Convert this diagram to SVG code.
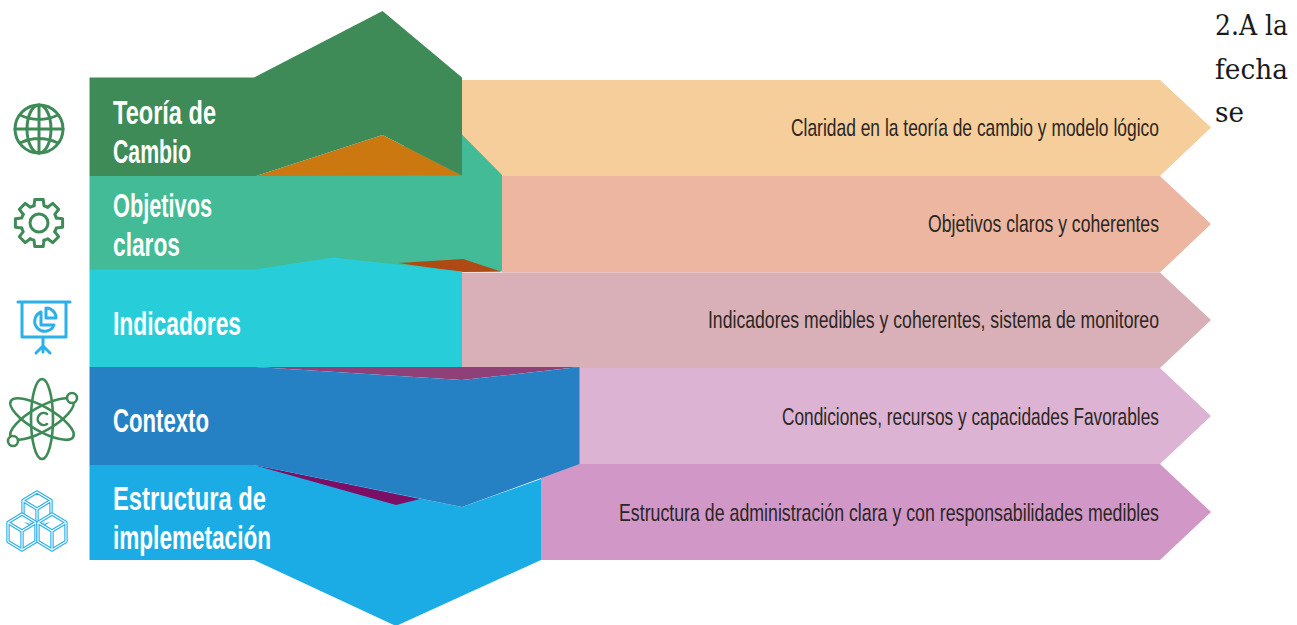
<svg xmlns="http://www.w3.org/2000/svg" width="1297" height="625" viewBox="0 0 1297 625">
<style>
.lab{font-family:"Liberation Sans Narrow","Liberation Sans",sans-serif;font-size:33px;font-weight:700;fill:#fff}
.desc{font-family:"Liberation Sans Narrow","Liberation Sans",sans-serif;font-size:24px;fill:#2b2623}
.note{font-family:"DejaVu Serif",serif;font-size:27px;fill:#1a1a1a}
.ico{fill:none;stroke-width:3;stroke-linecap:round;stroke-linejoin:round}
.g{stroke:#3f8b57}
.b{stroke:#2bb0ea}
</style>
<defs>
<g id="cube">
<path d="M0-18 14-9.500V9.500L0 18-14 9.500V-9.500ZM-14-9.500 0-1 14-9.500M0-1V18" fill="#fff" stroke="#2bb0ea" stroke-width="3.400" stroke-linejoin="round"/>
<path d="M0-18 14-9.500V9.500L0 18-14 9.500V-9.500ZM-14-9.500 0-1 14-9.500M0-1V18" fill="none" stroke="#fff" stroke-width="1.100" stroke-linejoin="round"/>
</g>
<path id="tooth" d="M17.300-5 23.600-4.200V4.200L17.300 5A18 18 0 0 1 15.700 8.700"/>
</defs>
<g id="arrow-1"><polygon points="462,80 1160,80 1211,127.500 1160,176 462,176" fill="#f5ce9c"/><text class="desc" transform="scale(.72 1)" x="1098.600" y="136" textLength="511" lengthAdjust="spacingAndGlyphs">Claridad en la teoría de cambio y modelo lógico</text></g>
<g id="arrow-2"><polygon points="502,176 1160,176 1211,224 1160,272.500 502,272.500" fill="#ecb6a0"/><text class="desc" transform="scale(.72 1)" x="1288.900" y="232" textLength="320.800" lengthAdjust="spacingAndGlyphs">Objetivos claros y coherentes</text></g>
<g id="arrow-3"><polygon points="462,272.500 1160,272.500 1211,320 1160,368 462,368" fill="#d9b0b7"/><text class="desc" transform="scale(.72 1)" x="983.300" y="328.500" textLength="626.400" lengthAdjust="spacingAndGlyphs">Indicadores medibles y coherentes, sistema de monitoreo</text></g>
<g id="arrow-4"><polygon points="579,368 1160,368 1211,416 1160,464 579,464" fill="#ddb3d3"/><text class="desc" transform="scale(.72 1)" x="1086.100" y="425" textLength="523.600" lengthAdjust="spacingAndGlyphs">Condiciones, recursos y capacidades Favorables</text></g>
<g id="arrow-5"><polygon points="541,464 1160,464 1211,512 1160,560 541,560" fill="#d197c7"/><text class="desc" transform="scale(.72 1)" x="859.700" y="521" textLength="750" lengthAdjust="spacingAndGlyphs">Estructura de administración clara y con responsabilidades medibles</text></g>

<g id="node-objetivos">
<polygon points="89.500,176 256,176 462,134.500 502,175 502,271.500 462,272 254,270 89.500,270" fill="#42bb96"/>
<polygon points="398,263 463,259 501,271.500 462,272" fill="#b04a14"/>
<polygon points="256,176 382.500,135 462,175.500" fill="#cc7810"/>
<text class="lab" x="113" y="216.500" textLength="99" lengthAdjust="spacingAndGlyphs">Objetivos</text>
<text class="lab" x="113" y="256" textLength="67" lengthAdjust="spacingAndGlyphs">claros</text>
</g>
<g id="node-teoria">
<polygon points="89.500,77.500 254,77.500 382.500,11 462,77.500 462,175.500 382.500,135 256,176 89.500,176" fill="#3f8b57"/>
<text class="lab" x="113" y="124" textLength="103" lengthAdjust="spacingAndGlyphs">Teoría de</text>
<text class="lab" x="113" y="163" textLength="78" lengthAdjust="spacingAndGlyphs">Cambio</text>
</g>
<g id="node-indicadores">
<polygon points="89.500,269.500 254,269.500 333,257.500 462,271.500 462,367 89.500,367" fill="#27ceda"/>
<polygon points="256,367 579,367 462,380" fill="#8f4079"/>
<text class="lab" x="113" y="335" textLength="128" lengthAdjust="spacingAndGlyphs">Indicadores</text>
</g>
<g id="node-estructura">
<polygon points="89.500,465 254,465 462,507 541,479 541,560 396,626 254,560 89.500,560" fill="#1cace5"/>
<polygon points="254,465 420,499 396,505" fill="#7d0e66"/>
<text class="lab" x="113" y="510" textLength="153" lengthAdjust="spacingAndGlyphs">Estructura de</text>
<text class="lab" x="113" y="549" textLength="158" lengthAdjust="spacingAndGlyphs">implemetación</text>
</g>
<g id="node-contexto">
<polygon points="89.500,367 256,367 462,380 579.500,367 579.500,464 462,507 254,465 89.500,465" fill="#2581c4"/>
<text class="lab" x="113" y="432" textLength="96" lengthAdjust="spacingAndGlyphs">Contexto</text>
</g>

<g id="icon-globe" class="ico g">
<circle cx="39" cy="129" r="24"/><ellipse cx="39" cy="129" rx="12" ry="24"/>
<path d="M39 105V153M15 129H63M20 115Q39 124 58 115M20 143Q39 134 58 143"/>
</g>
<g id="icon-gear" class="ico g">
<circle cx="39" cy="223" r="9"/>
<use href="#tooth" transform="translate(39 223)"/>
<use href="#tooth" transform="translate(39 223) rotate(45)"/>
<use href="#tooth" transform="translate(39 223) rotate(90)"/>
<use href="#tooth" transform="translate(39 223) rotate(135)"/>
<use href="#tooth" transform="translate(39 223) rotate(180)"/>
<use href="#tooth" transform="translate(39 223) rotate(225)"/>
<use href="#tooth" transform="translate(39 223) rotate(270)"/>
<use href="#tooth" transform="translate(39 223) rotate(315)"/>
</g>
<g id="icon-chart" class="ico b">
<path d="M18 302H70M22 302V337H66V302M43 337V352M36 353 43 346 50 353"/>
<path d="M41 312A10 10 0 1 0 54 325H41Z"/>
<path d="M46 308A10 10 0 0 1 56 318H46Z"/>
</g>
<g id="icon-atom" class="ico g" style="stroke-width:2.600">
<ellipse cx="42" cy="419" rx="11" ry="40"/>
<ellipse cx="42" cy="419" rx="12" ry="36" transform="rotate(60 42 419)"/>
<ellipse cx="42" cy="419" rx="12" ry="36" transform="rotate(-60 42 419)"/>
<circle cx="72" cy="398" r="5" fill="#fff"/><circle cx="13" cy="441" r="5" fill="#fff"/>
<path d="M47 414A6 6 0 1 0 47 424"/>
</g>
<g id="icon-cubes">
<use href="#cube" x="37" y="510"/><use href="#cube" x="22" y="532"/><use href="#cube" x="52" y="532"/>
</g>
<g id="note">
<text class="note" x="1215" y="35" textLength="73" lengthAdjust="spacingAndGlyphs">2.A la</text>
<text class="note" x="1215" y="78.500" textLength="73" lengthAdjust="spacingAndGlyphs">fecha</text>
<text class="note" x="1215" y="122" textLength="29" lengthAdjust="spacingAndGlyphs">se</text>
</g>
</svg>
